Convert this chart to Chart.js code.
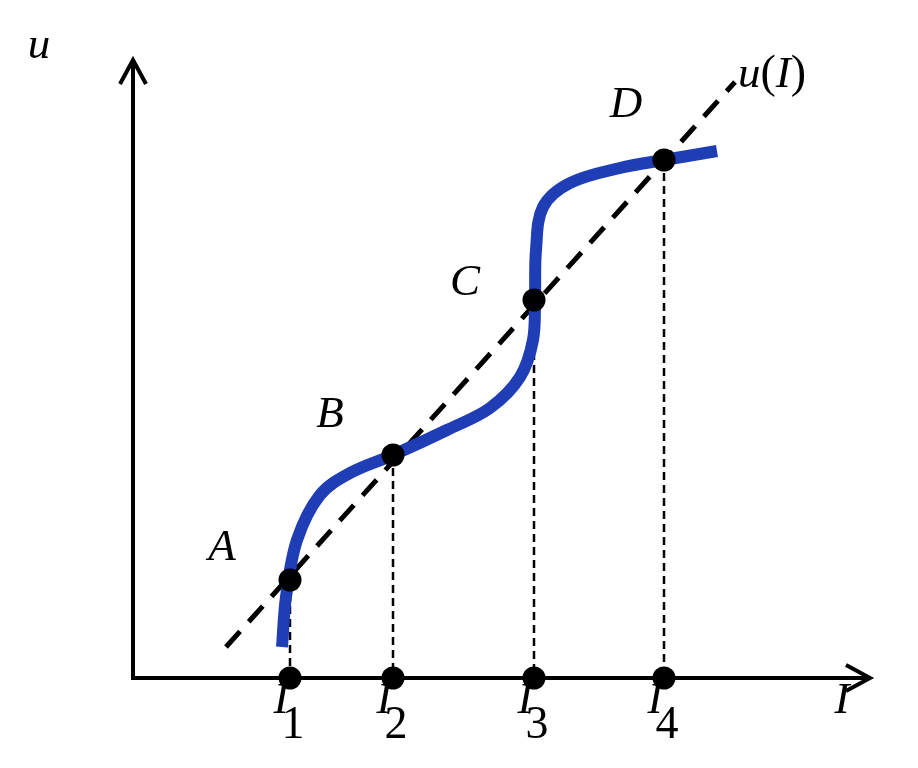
<!DOCTYPE html>
<html>
<head>
<meta charset="utf-8">
<script src="https://cdn.jsdelivr.net/npm/chart.js@4"></script>
<style>
  html, body { margin: 0; padding: 0; background: #ffffff; }
  #c { display: block; }
</style>
</head>
<body>
<canvas id="c" width="918" height="768"></canvas>
<script>
// ---- Data ----
const curveI = [1.49, 1.53, 1.64, 1.87, 2.17, 2.60, 3.14, 3.57, 3.87, 4.00, 4.02, 4.03, 4.10, 4.37, 4.87, 5.31, 5.84];
const curveU = [0.31, 0.81, 1.38, 1.83, 2.05, 2.23, 2.48, 2.70, 3.01, 3.38, 3.78, 4.28, 4.71, 4.95, 5.10, 5.18, 5.27];
const lineI = [0.93, 6.02];
const lineU = [0.31, 5.96];
const pointNames = ['A', 'B', 'C', 'D'];
const pointI = [1.57, 2.60, 4.01, 5.31];
const pointU = [0.98, 2.23, 3.78, 5.18];
const tickLabels = ['1', '2', '3', '4'];
const axisMaxI = 7.37;
const axisMaxU = 6.18;
const yAxisTitle = 'u';
const xAxisTitle = 'I';

// ---- Build datasets ----
const zip = (xs, ys) => xs.map((x, i) => ({ x: x, y: ys[i] }));
const datasets = [];

// markers (top)
datasets.push({
  data: zip(pointI, pointU).concat(pointI.map(x => ({ x: x, y: 0 }))),
  showLine: false, pointRadius: 11.5, pointHoverRadius: 11.5,
  pointBackgroundColor: '#000', pointBorderWidth: 0, order: 0
});
// blue curve
datasets.push({
  data: zip(curveI, curveU), showLine: true, borderColor: '#1f3db5', borderWidth: 12,
  pointRadius: 0, tension: 0.35, borderCapStyle: 'butt', order: 1
});
// dashed line u(I)
datasets.push({
  data: zip(lineI, lineU), showLine: true, borderColor: '#000', borderWidth: 5,
  borderDash: [21, 13], pointRadius: 0, order: 2
});
// dotted verticals
pointI.forEach((x, i) => {
  datasets.push({
    data: [{ x: x, y: pointU[i] }, { x: x, y: 0 }], showLine: true, borderColor: '#000',
    borderWidth: 2.5, borderDash: [8, 5], pointRadius: 0, order: 3
  });
});
// axes
datasets.push({ data: [{ x: 0, y: axisMaxU }, { x: 0, y: 0 }, { x: axisMaxI, y: 0 }],
  showLine: true, borderColor: '#000', borderWidth: 4, pointRadius: 0, order: 4 });
// arrowheads
datasets.push({ data: [{ x: -0.13, y: axisMaxU - 0.24 }, { x: 0, y: axisMaxU }, { x: 0.13, y: axisMaxU - 0.24 }],
  showLine: true, borderColor: '#000', borderWidth: 4, pointRadius: 0, borderJoinStyle: 'miter', order: 4 });
datasets.push({ data: [{ x: axisMaxI - 0.24, y: 0.13 }, { x: axisMaxI, y: 0 }, { x: axisMaxI - 0.24, y: -0.13 }],
  showLine: true, borderColor: '#000', borderWidth: 4, pointRadius: 0, borderJoinStyle: 'miter', order: 4 });

// ---- Text plugin ----
const FONT = '"Liberation Serif", "DejaVu Serif", serif';
const labelPlugin = {
  id: 'labels',
  afterDatasetsDraw(chart) {
    const ctx = chart.ctx;
    const xs = chart.scales.x, ys = chart.scales.y;
    const px = v => xs.getPixelForValue(v), py = v => ys.getPixelForValue(v);
    ctx.save();
    ctx.fillStyle = '#000';
    ctx.textAlign = 'center';
    ctx.textBaseline = 'middle';
    const italic = 'italic 45px ' + FONT;
    const upright = '46px ' + FONT;
    // point labels
    const offs = [[-68, -32], [-63, -40], [-69, -17], [-38, -55]];
    ctx.font = italic;
    pointNames.forEach((n, i) => {
      ctx.fillText(n, px(pointI[i]) + offs[i][0], py(pointU[i]) + offs[i][1]);
    });
    // tick labels I_n
    pointI.forEach((x, i) => {
      ctx.font = italic;
      ctx.fillText('I', px(x) - 9, py(0) + 23);
      ctx.font = upright;
      ctx.fillText(tickLabels[i], px(x) + 3, py(0) + 48);
    });
    // axis titles
    ctx.font = italic;
    ctx.fillText(yAxisTitle, px(0) - 94, py(axisMaxU) - 14);
    ctx.fillText(xAxisTitle, px(axisMaxI) - 28, py(0) + 23);
    // line title u(I)
    const lx = px(lineI[1]) + 3, ly = py(lineU[1]) - 7;
    ctx.textAlign = 'left';
    ctx.font = italic;
    ctx.fillText('u', lx, ly);
    let w = ctx.measureText('u').width;
    ctx.font = upright;
    ctx.fillText('(', lx + w, ly);
    w += ctx.measureText('(').width;
    ctx.font = italic;
    ctx.fillText('I', lx + w, ly);
    w += ctx.measureText('I').width;
    ctx.font = upright;
    ctx.fillText(')', lx + w, ly);
    ctx.restore();
  }
};

new Chart(document.getElementById('c'), {
  type: 'scatter',
  data: { datasets: datasets },
  options: {
    responsive: false,
    animation: false,
    devicePixelRatio: 1,
    layout: { padding: 0, autoPadding: false },
    scales: {
      x: { type: 'linear', min: -1.33, max: 7.85, display: false },
      y: { type: 'linear', min: -0.90, max: 6.78, display: false }
    },
    plugins: { legend: { display: false }, tooltip: { enabled: false } },
    events: []
  },
  plugins: [labelPlugin]
});
</script>
</body>
</html>
